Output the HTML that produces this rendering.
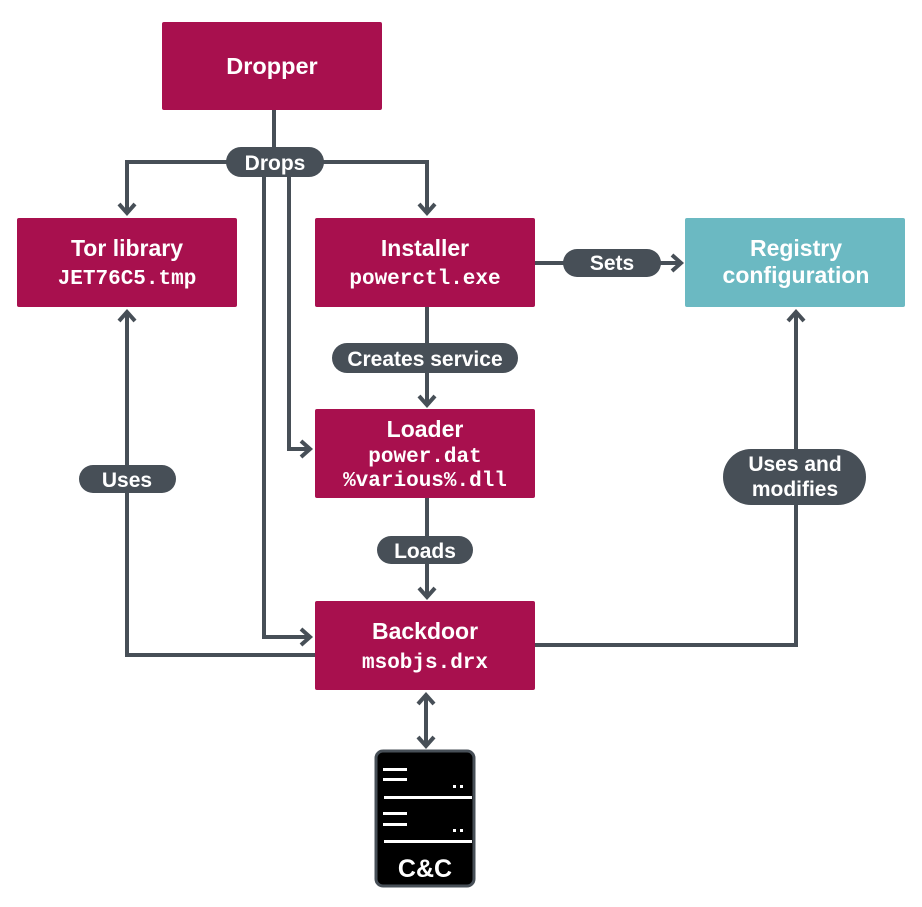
<!DOCTYPE html>
<html><head><meta charset="utf-8"><style>
html,body{margin:0;padding:0;background:#fff;}
svg{display:block;}
.t{font-family:"Liberation Sans",sans-serif;font-weight:bold;fill:#fff;text-anchor:middle;}
.m{font-family:"Liberation Mono",monospace;font-weight:bold;fill:#fff;text-anchor:middle;}
</style></head><body>
<svg width="922" height="907" viewBox="0 0 922 907" xmlns="http://www.w3.org/2000/svg">
<g stroke="#474f57" stroke-width="4" fill="none" stroke-linejoin="miter">
<path d="M274 110 V162"/>
<path d="M127 212 V162 H427 V212"/>
<path d="M119 204 L127 213 L135 204"/>
<path d="M419 204 L427 213 L435 204"/>
<path d="M289 162 V449 H309"/>
<path d="M301 441 L310 449 L301 457"/>
<path d="M264 162 V637 H309"/>
<path d="M301 629 L310 637 L301 645"/>
<path d="M427 307 V404"/>
<path d="M419 396 L427 405 L435 396"/>
<path d="M535 263 H680"/>
<path d="M672 255 L681 263 L672 271"/>
<path d="M427 498 V596"/>
<path d="M419 588 L427 597 L435 588"/>
<path d="M315 655 H127 V313"/>
<path d="M119 321 L127 312 L135 321"/>
<path d="M535 645 H796 V313"/>
<path d="M788 321 L796 312 L804 321"/>
<path d="M426 696 V745"/>
<path d="M418 704 L426 695 L434 704"/>
<path d="M418 737 L426 746 L434 737"/>
</g>
<rect x="162" y="22" width="220" height="88" rx="2" fill="#a8104e"/>
<text class="t" x="272" y="74" font-size="23.5">Dropper</text>
<rect x="17" y="218" width="220" height="89" rx="2" fill="#a8104e"/>
<text class="t" x="127" y="256" font-size="23">Tor library</text>
<text class="m" x="127" y="284" font-size="21">JET76C5.tmp</text>
<rect x="315" y="218" width="220" height="89" rx="2" fill="#a8104e"/>
<text class="t" x="425" y="256" font-size="23">Installer</text>
<text class="m" x="425" y="284" font-size="21">powerctl.exe</text>
<rect x="685" y="218" width="220" height="89" rx="2" fill="#6bb9c2"/>
<text class="t" x="796" y="256" font-size="23">Registry</text>
<text class="t" x="796" y="283" font-size="23">configuration</text>
<rect x="315" y="409" width="220" height="89" rx="2" fill="#a8104e"/>
<text class="t" x="425" y="437" font-size="23">Loader</text>
<text class="m" x="425" y="462" font-size="21">power.dat</text>
<text class="m" x="425" y="486" font-size="21">%various%.dll</text>
<rect x="315" y="601" width="220" height="89" rx="2" fill="#a8104e"/>
<text class="t" x="425" y="639" font-size="23">Backdoor</text>
<text class="m" x="425" y="668" font-size="21">msobjs.drx</text>
<rect x="226" y="147" width="98" height="30" rx="15" fill="#474f57"/>
<text class="t" x="275" y="170" font-size="21">Drops</text>
<rect x="563" y="249" width="98" height="28" rx="14" fill="#474f57"/>
<text class="t" x="612" y="270" font-size="21">Sets</text>
<rect x="332" y="343" width="186" height="30" rx="15" fill="#474f57"/>
<text class="t" x="425" y="366" font-size="21">Creates service</text>
<rect x="377" y="536" width="96" height="28" rx="14" fill="#474f57"/>
<text class="t" x="425" y="558" font-size="21">Loads</text>
<rect x="79" y="465" width="97" height="28" rx="14" fill="#474f57"/>
<text class="t" x="127" y="487" font-size="21">Uses</text>
<rect x="723" y="449" width="143" height="56" rx="28" fill="#474f57"/>
<text class="t" x="795" y="471" font-size="21">Uses and</text>
<text class="t" x="795" y="496" font-size="21">modifies</text>
<rect x="376" y="751" width="98" height="135" rx="7" fill="#000" stroke="#474f57" stroke-width="3"/>
<g fill="#fff">
<rect x="383" y="768" width="24" height="3"/>
<rect x="383" y="778" width="24" height="3"/>
<rect x="453" y="785" width="3" height="3"/><rect x="460" y="785" width="3" height="3"/>
<rect x="384" y="796" width="88" height="3"/>
<rect x="383" y="812" width="24" height="3"/>
<rect x="383" y="823" width="24" height="3"/>
<rect x="453" y="829" width="3" height="3"/><rect x="460" y="829" width="3" height="3"/>
<rect x="384" y="840" width="88" height="3"/>
</g>
<text class="t" x="425" y="877" font-size="25">C&amp;C</text>
</svg>
</body></html>
